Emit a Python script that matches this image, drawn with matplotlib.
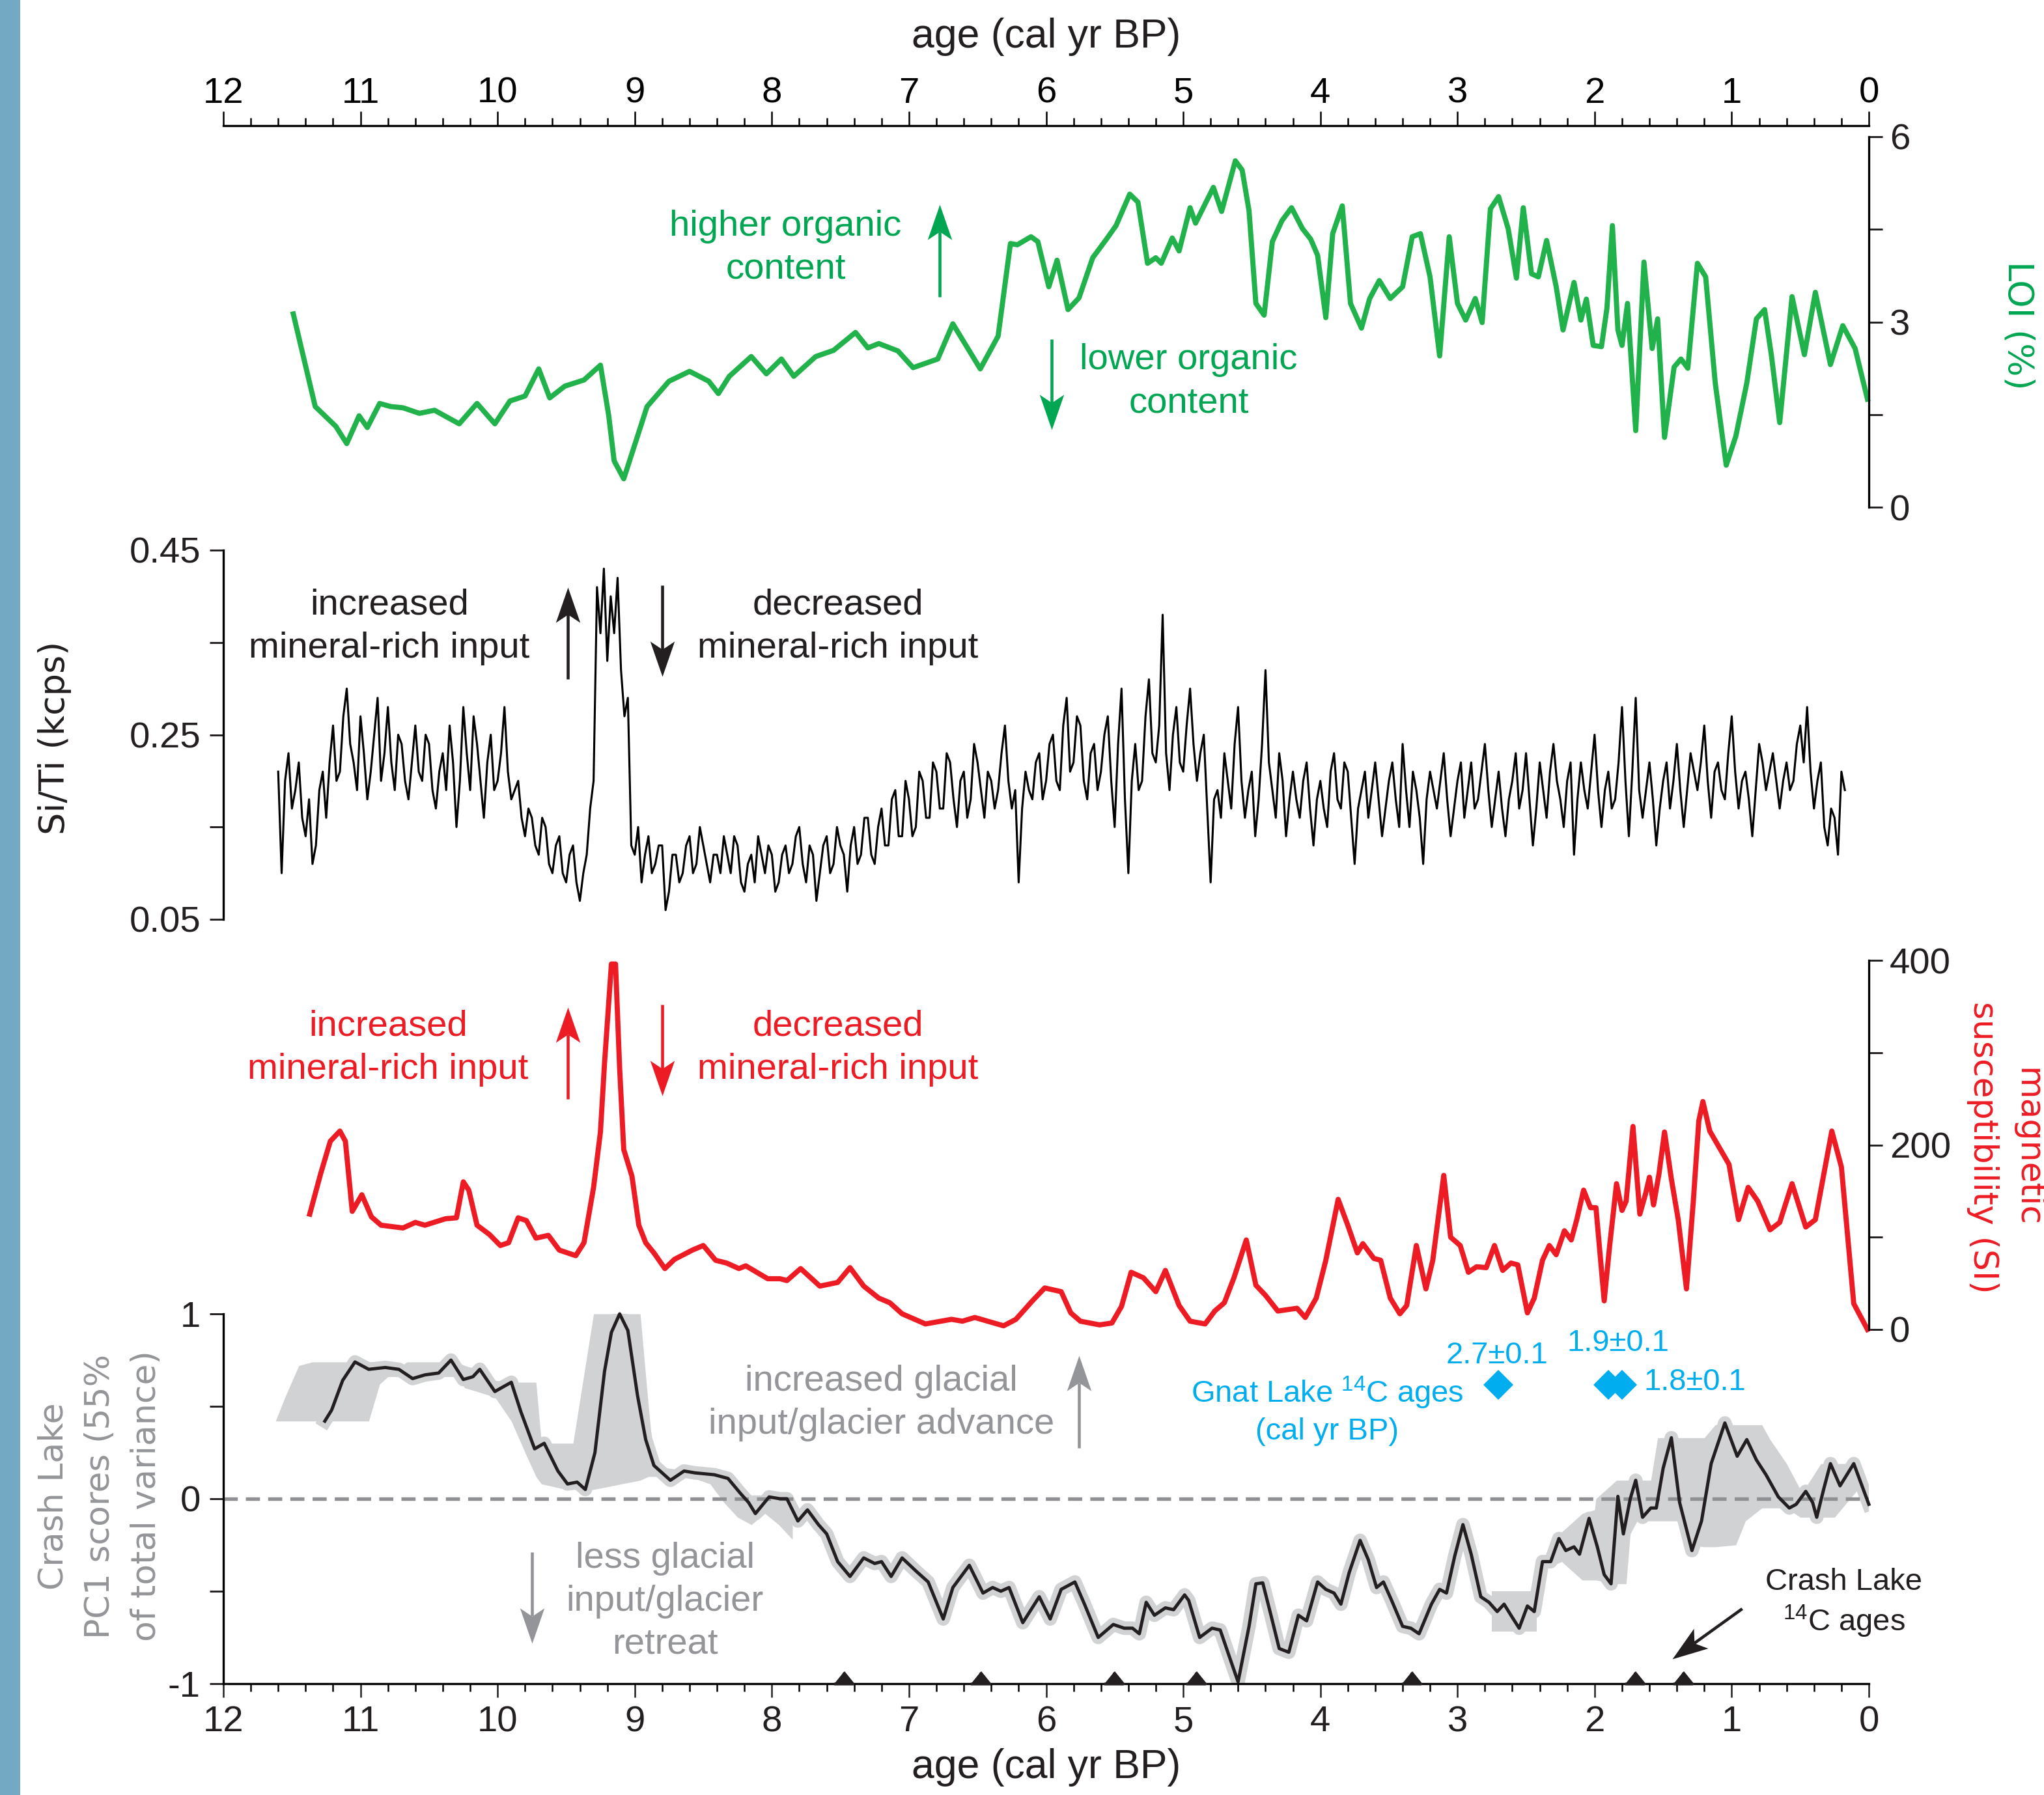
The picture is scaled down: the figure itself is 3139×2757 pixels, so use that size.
import matplotlib
matplotlib.use('Agg')
import matplotlib.pyplot as plt
import numpy as np
from matplotlib.patches import Rectangle
from matplotlib.markers import MarkerStyle
from matplotlib.path import Path
from matplotlib.transforms import Affine2D

plt.rcParams['font.family'] = ['Liberation Sans', 'DejaVu Sans']
plt.rcParams['mathtext.default'] = 'regular'

# ---------------- data (age in cal kyr BP) ----------------
loi_age = [11.49, 11.33, 11.18, 11.10, 11.01, 10.95, 10.86, 10.78, 10.69, 10.57, 10.46, 10.28, 10.15,
           10.02, 9.91, 9.80, 9.70, 9.62, 9.51, 9.37, 9.25, 9.19, 9.15, 9.08, 8.91, 8.75, 8.60, 8.46,
           8.39, 8.31, 8.15, 8.04, 7.93, 7.84, 7.68, 7.55, 7.39, 7.30, 7.22, 7.08, 6.97, 6.79, 6.68,
           6.48, 6.35, 6.26, 6.21, 6.11, 6.06, 5.98, 5.92, 5.84, 5.76, 5.66, 5.56, 5.49, 5.39, 5.33,
           5.26, 5.20, 5.16, 5.08, 5.03, 4.95, 4.91, 4.78, 4.72, 4.62, 4.57, 4.52, 4.47, 4.41, 4.35,
           4.28, 4.21, 4.13, 4.07, 4.02, 3.96, 3.91, 3.84, 3.78, 3.70, 3.64, 3.57, 3.49, 3.40, 3.33,
           3.27, 3.20, 3.13, 3.06, 3.00, 2.94, 2.87, 2.82, 2.76, 2.70, 2.63, 2.57, 2.52, 2.46, 2.41,
           2.35, 2.28, 2.23, 2.15, 2.10, 2.06, 2.01, 1.95, 1.91, 1.87, 1.83, 1.80, 1.76, 1.70, 1.64,
           1.58, 1.54, 1.49, 1.42, 1.37, 1.32, 1.25, 1.19, 1.12, 1.04, 0.97, 0.89, 0.82, 0.76, 0.71,
           0.65, 0.56, 0.47, 0.39, 0.28, 0.19, 0.10, 0.01]
loi_val = [3.13, 1.63, 1.31, 1.03, 1.48, 1.29, 1.68, 1.63, 1.61, 1.52, 1.57, 1.35, 1.68,
           1.35, 1.72, 1.80, 2.24, 1.77, 1.96, 2.06, 2.30, 1.49, 0.75, 0.46, 1.63, 2.04, 2.20, 2.04,
           1.84, 2.12, 2.44, 2.16, 2.40, 2.12, 2.44, 2.54, 2.83, 2.58, 2.65, 2.53, 2.26, 2.40, 2.97,
           2.24, 2.77, 4.27, 4.25, 4.38, 4.30, 3.57, 4.00, 3.20, 3.39, 4.04, 4.34, 4.56, 5.07, 4.94,
           3.95, 4.04, 3.95, 4.36, 4.15, 4.85, 4.60, 5.18, 4.79, 5.61, 5.46, 4.80, 3.30, 3.11, 4.30,
           4.64, 4.85, 4.51, 4.34, 4.08, 3.07, 4.43, 4.88, 3.30, 2.90, 3.38, 3.67, 3.38, 3.57, 4.38,
           4.43, 3.73, 2.45, 4.38, 3.30, 3.03, 3.38, 2.99, 4.83, 5.03, 4.51, 3.71, 4.85, 3.78, 3.73,
           4.32, 3.57, 2.87, 3.64, 3.03, 3.37, 2.62, 2.60, 3.22, 4.56, 2.87, 2.62, 3.30, 1.24, 3.97,
           2.57, 3.05, 1.13, 2.27, 2.40, 2.25, 3.95, 3.73, 2.01, 0.68, 1.15, 2.01, 3.05, 3.20, 2.45,
           1.37, 3.41, 2.47, 3.48, 2.31, 2.94, 2.57, 1.75]

# Si/Ti, one reading every 0.025 kyr from 11.600 (each row spans 0.25 kyr)
siti_start = 11.60
siti_step = 0.025
siti_val = [
    0.21, 0.10, 0.20, 0.23, 0.17, 0.19, 0.22, 0.16, 0.14, 0.18,
    0.11, 0.13, 0.19, 0.21, 0.16, 0.22, 0.26, 0.20, 0.21, 0.27,
    0.30, 0.24, 0.22, 0.19, 0.27, 0.23, 0.18, 0.21, 0.25, 0.29,
    0.20, 0.23, 0.28, 0.22, 0.19, 0.25, 0.24, 0.20, 0.18, 0.22,
    0.26, 0.21, 0.20, 0.25, 0.24, 0.19, 0.17, 0.21, 0.23, 0.19,
    0.26, 0.22, 0.15, 0.20, 0.28, 0.23, 0.19, 0.27, 0.24, 0.20,
    0.16, 0.22, 0.25, 0.19, 0.20, 0.23, 0.28, 0.21, 0.18, 0.19,
    0.20, 0.16, 0.14, 0.17, 0.16, 0.13, 0.12, 0.16, 0.15, 0.11,
    0.10, 0.13, 0.14, 0.10, 0.09, 0.12, 0.13, 0.09, 0.07, 0.10,
    0.12, 0.17, 0.20, 0.41, 0.36, 0.43, 0.33, 0.40, 0.36, 0.42,
    0.32, 0.27, 0.29, 0.13, 0.12, 0.15, 0.09, 0.12, 0.14, 0.10,
    0.11, 0.13, 0.13, 0.06, 0.08, 0.12, 0.12, 0.09, 0.10, 0.13,
    0.14, 0.10, 0.11, 0.15, 0.13, 0.11, 0.09, 0.12, 0.12, 0.10,
    0.14, 0.12, 0.10, 0.14, 0.13, 0.09, 0.08, 0.11, 0.12, 0.09,
    0.14, 0.12, 0.10, 0.13, 0.12, 0.08, 0.09, 0.12, 0.13, 0.10,
    0.11, 0.14, 0.15, 0.11, 0.09, 0.13, 0.12, 0.07, 0.10, 0.13,
    0.14, 0.10, 0.11, 0.15, 0.13, 0.12, 0.08, 0.13, 0.15, 0.11,
    0.12, 0.16, 0.16, 0.12, 0.11, 0.15, 0.17, 0.13, 0.13, 0.18,
    0.19, 0.14, 0.14, 0.20, 0.18, 0.14, 0.15, 0.21, 0.20, 0.16,
    0.16, 0.22, 0.21, 0.17, 0.17, 0.23, 0.22, 0.18, 0.15, 0.20,
    0.21, 0.16, 0.18, 0.24, 0.22, 0.19, 0.16, 0.21, 0.20, 0.17,
    0.19, 0.23, 0.26, 0.20, 0.17, 0.19, 0.09, 0.17, 0.21, 0.19,
    0.18, 0.22, 0.23, 0.18, 0.20, 0.24, 0.25, 0.20, 0.19, 0.26,
    0.29, 0.21, 0.22, 0.27, 0.26, 0.20, 0.18, 0.23, 0.24, 0.19,
    0.21, 0.25, 0.27, 0.20, 0.15, 0.24, 0.30, 0.18, 0.10, 0.20,
    0.24, 0.19, 0.20, 0.27, 0.31, 0.23, 0.22, 0.26, 0.38, 0.23,
    0.19, 0.25, 0.28, 0.22, 0.21, 0.26, 0.30, 0.24, 0.20, 0.23,
    0.25, 0.17, 0.09, 0.18, 0.19, 0.16, 0.23, 0.20, 0.17, 0.24,
    0.28, 0.20, 0.16, 0.19, 0.21, 0.14, 0.18, 0.24, 0.32, 0.22,
    0.19, 0.16, 0.23, 0.20, 0.14, 0.18, 0.21, 0.18, 0.16, 0.20,
    0.22, 0.17, 0.13, 0.18, 0.20, 0.17, 0.15, 0.21, 0.23, 0.18,
    0.17, 0.22, 0.21, 0.16, 0.11, 0.17, 0.19, 0.21, 0.16, 0.19,
    0.22, 0.18, 0.14, 0.17, 0.20, 0.22, 0.18, 0.15, 0.24, 0.19,
    0.15, 0.21, 0.19, 0.16, 0.11, 0.18, 0.21, 0.19, 0.17, 0.20,
    0.23, 0.18, 0.14, 0.17, 0.20, 0.22, 0.16, 0.19, 0.22, 0.17,
    0.18, 0.21, 0.24, 0.19, 0.15, 0.18, 0.21, 0.17, 0.14, 0.18,
    0.20, 0.23, 0.17, 0.19, 0.23, 0.18, 0.13, 0.17, 0.22, 0.19,
    0.16, 0.21, 0.24, 0.20, 0.18, 0.15, 0.20, 0.22, 0.12, 0.18,
    0.22, 0.19, 0.17, 0.21, 0.25, 0.19, 0.15, 0.19, 0.21, 0.17,
    0.18, 0.22, 0.28, 0.20, 0.14, 0.21, 0.29, 0.19, 0.16, 0.19,
    0.22, 0.18, 0.13, 0.17, 0.20, 0.22, 0.17, 0.20, 0.24, 0.19,
    0.15, 0.19, 0.23, 0.21, 0.19, 0.22, 0.26, 0.20, 0.16, 0.21,
    0.22, 0.19, 0.18, 0.23, 0.27, 0.21, 0.17, 0.20, 0.21, 0.18,
    0.14, 0.19, 0.24, 0.22, 0.19, 0.21, 0.23, 0.20, 0.17, 0.20,
    0.22, 0.19, 0.20, 0.24, 0.26, 0.22, 0.28, 0.21, 0.17, 0.20,
    0.22, 0.15, 0.13, 0.17, 0.16, 0.12, 0.21, 0.19]

ms_age = [11.37, 11.29, 11.22, 11.15, 11.11, 11.06, 10.99, 10.92, 10.85, 10.69, 10.60, 10.53, 10.38,
          10.30, 10.25, 10.21, 10.15, 10.06, 9.98, 9.92, 9.85, 9.79, 9.72, 9.63, 9.55, 9.43, 9.37,
          9.30, 9.25, 9.22, 9.17, 9.14, 9.11, 9.08, 9.02, 8.97, 8.92, 8.86, 8.78, 8.71, 8.58, 8.50,
          8.41, 8.33, 8.24, 8.19, 8.03, 7.94, 7.89, 7.79, 7.65, 7.52, 7.43, 7.33, 7.22, 7.14, 7.05,
          6.88, 6.69, 6.61, 6.52, 6.31, 6.22, 6.10, 6.01, 5.89, 5.82, 5.75, 5.61, 5.52, 5.45, 5.38,
          5.29, 5.20, 5.13, 5.03, 4.95, 4.84, 4.77, 4.70, 4.63, 4.54, 4.47, 4.40, 4.31, 4.17, 4.11,
          4.03, 3.96, 3.87, 3.80, 3.73, 3.69, 3.61, 3.56, 3.49, 3.42, 3.37, 3.30, 3.23, 3.18, 3.10,
          3.05, 2.98, 2.92, 2.86, 2.79, 2.73, 2.67, 2.61, 2.56, 2.49, 2.44, 2.38, 2.33, 2.28, 2.22,
          2.17, 2.13, 2.08, 2.03, 1.99, 1.93, 1.89, 1.84, 1.80, 1.77, 1.72, 1.67, 1.63, 1.60, 1.57,
          1.53, 1.49, 1.44, 1.39, 1.33, 1.28, 1.24, 1.21, 1.16, 1.02, 0.95, 0.88, 0.81, 0.72, 0.65,
          0.56, 0.46, 0.39, 0.27, 0.20, 0.11, 0.01]
ms_val = [125, 169, 204, 215, 204, 128, 146, 122, 113, 110, 116, 113, 120,
          121, 160, 151, 113, 103, 91, 94, 121, 118, 99, 102, 86, 80, 94,
          154, 214, 289, 396, 396, 283, 195, 166, 113, 94, 83, 66, 76, 86, 91,
          75, 72, 66, 69, 55, 55, 53, 66, 47, 51, 67, 47, 34, 29, 17,
          6, 11, 9, 13, 4, 11, 31, 45, 41, 18, 9, 5, 7, 25, 62,
          56, 41, 64, 26, 9, 6, 20, 29, 56, 97, 48, 37, 20, 23, 13,
          34, 75, 141, 113, 83, 93, 77, 75, 34, 17, 26, 91, 44, 75, 167,
          100, 91, 62, 68, 67, 91, 64, 72, 70, 18, 34, 75, 91, 81, 107,
          97, 119, 151, 132, 132, 31, 91, 158, 129, 139, 220, 125, 146, 165, 135,
          169, 214, 163, 119, 44, 139, 226, 247, 215, 179, 119, 154, 139, 108, 116,
          158, 111, 119, 215, 176, 28, 0]

pc_age = [11.26, 11.21, 11.13, 11.04, 10.94, 10.82, 10.72, 10.62, 10.53, 10.43, 10.34, 10.25, 10.18,
          10.13, 10.02, 9.90, 9.83, 9.73, 9.66, 9.56, 9.49, 9.42, 9.36, 9.29, 9.22, 9.17, 9.11, 9.05,
          8.98, 8.92, 8.86, 8.74, 8.64, 8.56, 8.42, 8.32, 8.23, 8.17, 8.12, 8.02, 7.94, 7.89, 7.81,
          7.74, 7.66, 7.60, 7.52, 7.43, 7.33, 7.25, 7.20, 7.13, 7.05, 6.95, 6.86, 6.75, 6.68, 6.56,
          6.46, 6.39, 6.33, 6.27, 6.17, 6.05, 5.97, 5.89, 5.79, 5.72, 5.62, 5.51, 5.43, 5.37, 5.32,
          5.27, 5.21, 5.13, 5.07, 4.99, 4.96, 4.88, 4.79, 4.73, 4.67, 4.60, 4.52, 4.47, 4.42, 4.36,
          4.30, 4.23, 4.16, 4.10, 4.02, 3.96, 3.90, 3.85, 3.79, 3.71, 3.65, 3.59, 3.54, 3.48, 3.40,
          3.34, 3.28, 3.19, 3.13, 3.08, 3.02, 2.96, 2.90, 2.83, 2.77, 2.71, 2.66, 2.61, 2.55, 2.49,
          2.44, 2.38, 2.32, 2.26, 2.21, 2.15, 2.11, 2.04, 1.98, 1.93, 1.88, 1.83, 1.79, 1.74, 1.70,
          1.65, 1.59, 1.55, 1.50, 1.44, 1.38, 1.29, 1.22, 1.15, 1.05, 0.96, 0.89, 0.82, 0.75, 0.66,
          0.58, 0.53, 0.46, 0.41, 0.38, 0.33, 0.28, 0.21, 0.16, 0.11, 0.06, 0.00]
pc_val = [0.42, 0.48, 0.64, 0.74, 0.70, 0.71, 0.70, 0.65, 0.67, 0.68, 0.75, 0.645, 0.66,
          0.70, 0.58, 0.63, 0.47, 0.27, 0.30, 0.15, 0.08, 0.09, 0.05, 0.25, 0.69, 0.90, 1.00, 0.91,
          0.56, 0.32, 0.18, 0.10, 0.15, 0.14, 0.13, 0.11, 0.03, -0.02, -0.08, 0.01, 0.00, 0.00, -0.12,
          -0.06, -0.14, -0.19, -0.34, -0.42, -0.32, -0.35, -0.34, -0.42, -0.32, -0.39, -0.45, -0.65, -0.48, -0.36,
          -0.51, -0.48, -0.50, -0.48, -0.67, -0.53, -0.65, -0.49, -0.45, -0.57, -0.75, -0.68, -0.70, -0.70, -0.73,
          -0.56, -0.63, -0.59, -0.60, -0.52, -0.55, -0.75, -0.70, -0.71, -0.84, -0.99, -0.69, -0.46, -0.455, -0.63,
          -0.81, -0.83, -0.63, -0.66, -0.45, -0.49, -0.51, -0.57, -0.40, -0.225, -0.33, -0.48, -0.45, -0.55, -0.69,
          -0.70, -0.73, -0.57, -0.49, -0.51, -0.31, -0.14, -0.30, -0.53, -0.56, -0.61, -0.57, -0.63, -0.70, -0.58,
          -0.61, -0.34, -0.34, -0.215, -0.28, -0.26, -0.30, -0.106, -0.26, -0.41, -0.46, 0.013, -0.19, 0.00, 0.10,
          -0.10, -0.05, -0.05, 0.165, 0.33, -0.02, -0.28, -0.12, 0.19, 0.41, 0.23, 0.32, 0.21, 0.13, 0.01,
          -0.05, -0.03, 0.04, -0.02, -0.10, 0.05, 0.19, 0.07, 0.13, 0.19, 0.09, -0.03]

# age-uncertainty envelope of PC1 (wide parts)
band1_age = [11.62, 11.55, 11.45, 11.35, 10.94, 10.86, 10.80, 10.72, 10.66, 10.30, 10.24, 10.15, 10.02,
             9.90, 9.80, 9.72, 9.68, 9.50, 9.45, 9.30, 8.96, 8.90, 8.86, 8.80, 8.60, 8.45, 8.35, 8.25,
             8.15, 8.05, 7.95, 7.85]
band1_hi = [0.42, 0.55, 0.72, 0.74, 0.74, 0.74, 0.74, 0.71, 0.74, 0.74, 0.72, 0.70, 0.64,
            0.63, 0.63, 0.63, 0.30, 0.30, 0.30, 1.00, 1.00, 0.50, 0.20, 0.17, 0.15, 0.14, 0.10, 0.05,
            0.02, 0.02, 0.02, -0.05]
band1_lo = [0.42, 0.42, 0.42, 0.42, 0.42, 0.62, 0.66, 0.66, 0.66, 0.66, 0.60, 0.58, 0.55,
            0.42, 0.25, 0.12, 0.08, 0.05, 0.05, 0.05, 0.10, 0.12, 0.12, 0.12, 0.12, 0.08, -0.02, -0.10,
            -0.14, -0.08, -0.14, -0.22]
band2_age = [2.75, 2.42]
band2_hi = [-0.50, -0.50]
band2_lo = [-0.72, -0.72]
band3_age = [2.30, 2.24, 2.09, 2.00, 1.99, 1.84, 1.77, 1.74, 1.69, 1.59, 1.54, 1.39, 1.32, 1.20, 1.12,
             0.97, 0.90, 0.78, 0.72, 0.60, 0.50, 0.47, 0.35, 0.25, 0.08, 0.04]
band3_hi = [-0.20, -0.18, -0.08, -0.06, 0.00, 0.10, 0.10, 0.10, 0.10, 0.10, 0.33, 0.33, 0.33, 0.33, 0.40,
            0.40, 0.40, 0.40, 0.32, 0.19, 0.05, 0.05, 0.19, 0.19, 0.19, 0.12]
band3_lo = [-0.36, -0.34, -0.44, -0.44, -0.44, -0.46, -0.46, -0.19, -0.12, -0.12, -0.12, -0.12, -0.25, -0.26, -0.26,
            -0.25, -0.12, -0.05, -0.05, -0.05, -0.10, -0.10, -0.10, -0.10, 0.05, 0.05]

crash_c14 = [7.48, 6.48, 5.51, 4.91, 3.34, 1.71, 1.36]
gnat_c14 = [2.7, 1.9, 1.8]
gnat_labels = ['2.7±0.1', '1.9±0.1', '1.8±0.1']

# ---------------- style ----------------
GREEN_L = '#22b24c'
GREEN_T = '#00a651'
RED = '#ed1c24'
CYAN = '#00aeef'
GREY_T = '#939598'
BAND = '#d1d2d3'
BLACK = '#231f20'
FS = 13.5

W_PX, H_PX = 3139, 2757
fig = plt.figure(figsize=(W_PX / 300, H_PX / 300), dpi=300)
fig.add_artist(Rectangle((0, 0), 31 / W_PX, 1, transform=fig.transFigure,
                         color='#74a9c4', lw=0, zorder=0))

X0, X1 = 343, 2870


def panel(ybot, ytop):
    ax = fig.add_axes([X0 / W_PX, 1 - ybot / H_PX, (X1 - X0) / W_PX, (ybot - ytop) / H_PX])
    ax.set_xlim(12, 0)
    ax.patch.set_alpha(0)
    for s in ax.spines.values():
        s.set_visible(False)
    ax.tick_params(axis='x', bottom=False, labelbottom=False)
    ax.tick_params(axis='y', length=5, width=0.7, labelsize=FS, colors=BLACK)
    return ax


# top age axis
ax_top = fig.add_axes([X0 / W_PX, 1 - 193 / H_PX, (X1 - X0) / W_PX, 0.0001])
ax_top.set_xlim(12, 0)
ax_top.patch.set_alpha(0)
for k in ['left', 'right', 'bottom']:
    ax_top.spines[k].set_visible(False)
ax_top.spines['top'].set_linewidth(0.8)
ax_top.set_yticks([])
ax_top.xaxis.tick_top()
ax_top.set_xticks(range(0, 13))
ax_top.set_xticklabels([str(i) for i in range(0, 13)])
ax_top.set_xticks(np.arange(0, 12.01, 0.2), minor=True)
ax_top.tick_params(axis='x', which='major', direction='out', length=5.3, width=0.6, labelsize=FS, pad=0.2)
ax_top.tick_params(axis='x', which='minor', direction='out', length=3.0, width=0.6)
fig.text(0.5117, 1 - 56 / H_PX, 'age (cal yr BP)', ha='center', va='center', fontsize=15, color=BLACK)

# LOI
ax_loi = panel(779, 210)
ax_loi.set_ylim(0, 6)
ax_loi.spines['right'].set_visible(True)
ax_loi.spines['right'].set_linewidth(0.8)
ax_loi.yaxis.tick_right()
ax_loi.set_yticks([0, 1.5, 3, 4.5, 6])
ax_loi.set_yticklabels(['0', '', '3', '', '6'])
ax_loi.tick_params(axis='y', pad=2.6)
ax_loi.plot(loi_age, loi_val, color=GREEN_L, lw=1.9, solid_joinstyle='round', clip_on=False)
ax_loi.text(7.90, 4.20, 'higher organic\ncontent', color=GREEN_T, fontsize=FS, ha='center', va='center',
            linespacing=1.35)
ax_loi.text(4.96, 2.03, 'lower organic\ncontent', color=GREEN_T, fontsize=FS, ha='center', va='center',
            linespacing=1.35)

# Si/Ti
ax_si = panel(1412, 845)
ax_si.set_ylim(0.05, 0.45)
ax_si.spines['left'].set_visible(True)
ax_si.spines['left'].set_linewidth(0.8)
ax_si.set_yticks([0.05, 0.15, 0.25, 0.35, 0.45])
ax_si.set_yticklabels(['0.05', '', '0.25', '', '0.45'])
ax_si.tick_params(axis='y', pad=3.4)
siti_age = np.round(siti_start - siti_step * np.arange(len(siti_val)), 3)
ax_si.plot(siti_age, siti_val, color='black', lw=0.75, clip_on=False)
ax_si.text(10.79, 0.367, 'increased\nmineral-rich input', color=BLACK, fontsize=FS, ha='center', va='center',
           linespacing=1.35)
ax_si.text(7.52, 0.367, 'decreased\nmineral-rich input', color=BLACK, fontsize=FS, ha='center', va='center',
           linespacing=1.35)
fig.text(84 / W_PX, 1 - 1133 / H_PX, 'Si/Ti (kcps)', rotation=90, ha='center', va='center',
         fontsize=13, family='DejaVu Sans', color=BLACK)

# magnetic susceptibility
ax_ms = panel(2042, 1475)
ax_ms.set_ylim(0, 400)
ax_ms.spines['right'].set_visible(True)
ax_ms.spines['right'].set_linewidth(0.8)
ax_ms.yaxis.tick_right()
ax_ms.set_yticks([0, 100, 200, 300, 400])
ax_ms.set_yticklabels(['0', '', '200', '', '400'])
ax_ms.tick_params(axis='y', pad=2.6)
ax_ms.plot(ms_age, ms_val, color=RED, lw=1.9, solid_joinstyle='round', clip_on=False)
ax_ms.text(10.80, 305, 'increased\nmineral-rich input', color=RED, fontsize=FS, ha='center', va='center',
           linespacing=1.35)
ax_ms.text(7.52, 305, 'decreased\nmineral-rich input', color=RED, fontsize=FS, ha='center', va='center',
           linespacing=1.35)
fig.text(3079 / W_PX, 1 - 1762 / H_PX, 'magnetic\nsusceptibility (SI)', rotation=270, ha='center',
         va='center', fontsize=12.5, family='DejaVu Sans', color=RED, linespacing=1.45)
fig.text(3099 / W_PX, 1 - 500 / H_PX, 'LOI (%)', rotation=270, ha='center', va='center',
         fontsize=13, family='DejaVu Sans', color=GREEN_T)

# PC1
ax_pc = panel(2586, 2018)
ax_pc.set_ylim(-1, 1)
ax_pc.spines['left'].set_visible(True)
ax_pc.spines['bottom'].set_visible(True)
ax_pc.spines['left'].set_linewidth(0.8)
ax_pc.spines['bottom'].set_linewidth(0.8)
ax_pc.set_yticks([-1, -0.5, 0, 0.5, 1])
ax_pc.set_yticklabels(['-1', '', '0', '', '1'])
ax_pc.tick_params(axis='y', pad=3.4)
ax_pc.set_xticks(range(0, 13))
ax_pc.set_xticklabels([str(i) for i in range(0, 13)])
ax_pc.set_xticks(np.arange(0, 12.01, 0.2), minor=True)
ax_pc.tick_params(axis='x', which='major', bottom=True, labelbottom=True, direction='out', length=5.0,
                  width=0.6, labelsize=FS, pad=3.0, colors=BLACK)
ax_pc.tick_params(axis='x', which='minor', bottom=True, direction='out', length=2.9, width=0.6)

for a, lo, hi in [(band1_age, band1_lo, band1_hi), (band2_age, band2_lo, band2_hi),
                  (band3_age, band3_lo, band3_hi)]:
    ax_pc.fill_between(a, lo, hi, color=BAND, lw=0, zorder=1)
ax_pc.plot(pc_age, pc_val, color=BAND, lw=5, solid_joinstyle='round', zorder=1.5)
ax_pc.axhline(0, color='#8f9093', lw=1.3, dashes=(4, 2.3), zorder=2)
ax_pc.plot(pc_age, pc_val, color=BLACK, lw=1.2, solid_joinstyle='round', zorder=3, clip_on=False)
ax_pc.plot(crash_c14, [-1] * len(crash_c14), linestyle='none', color=BLACK, markersize=8.7,
           marker=[(-1, 0), (1, 0), (0, 1.24)], clip_on=False, zorder=4)
ax_pc.plot(gnat_c14, [0.615] * len(gnat_c14), linestyle='none', marker='D', markersize=7.8, color=CYAN,
           mec='none', zorder=4)
ax_pc.text(2.71, 0.775, gnat_labels[0], color=CYAN, fontsize=11.3, ha='center', va='center')
ax_pc.text(1.83, 0.84, gnat_labels[1], color=CYAN, fontsize=11.3, ha='center', va='center')
ax_pc.text(1.64, 0.63, gnat_labels[2], color=CYAN, fontsize=11.3, ha='left', va='center')
ax_pc.text(3.95, 0.476, 'Gnat Lake $^{14}$C ages\n(cal yr BP)', color=CYAN, fontsize=11.3, ha='center',
           va='center', linespacing=1.3)
ax_pc.text(0.183, -0.568, 'Crash Lake\n$^{14}$C ages', color=BLACK, fontsize=11.3, ha='center', va='center',
           linespacing=1.25)
ax_pc.text(7.20, 0.517, 'increased glacial\ninput/glacier advance', color=GREY_T, fontsize=FS, ha='center',
           va='center', linespacing=1.35)
ax_pc.text(8.78, -0.556, 'less glacial\ninput/glacier\nretreat', color=GREY_T, fontsize=FS, ha='center',
           va='center', linespacing=1.35)
fig.text(154 / W_PX, 1 - 2298 / H_PX, 'Crash Lake\nPC1 scores (55%\nof total variance)', rotation=90,
         ha='center', va='center', fontsize=12.5, family='DejaVu Sans', color=GREY_T, linespacing=1.55)
fig.text(0.5117, 1 - 2715 / H_PX, 'age (cal yr BP)', ha='center', va='center', fontsize=15, color=BLACK)

# stealth-style arrow head: tip at origin, pointing along +x
HEAD = Path([(0, 0), (-1.3, 0.45), (-1.0, 0), (-1.3, -0.45), (0, 0)],
            [Path.MOVETO, Path.LINETO, Path.LINETO, Path.LINETO, Path.CLOSEPOLY])
HEAD_PT = 26  # marker size -> head length 13 pt


def arrow(ax, tail, tip, color, lw=1.1):
    p0 = ax.transData.transform(tail)
    p1 = ax.transData.transform(tip)
    d = p1 - p0
    ang = np.degrees(np.arctan2(d[1], d[0]))
    u = d / np.hypot(*d)
    notch_px = p1 - u * (HEAD_PT / 2 * (1.0 / 1.3)) * fig.dpi / 72
    notch = ax.transData.inverted().transform(notch_px)
    ax.plot([tail[0], notch[0]], [tail[1], notch[1]], color=color, lw=lw, solid_capstyle='butt',
            clip_on=False)
    ax.plot([tip[0]], [tip[1]], linestyle='none', color=color, markeredgewidth=0, markersize=HEAD_PT,
            marker=MarkerStyle(HEAD, transform=Affine2D().rotate_deg(ang)), clip_on=False)


arrow(ax_loi, (6.777, 3.41), (6.777, 4.90), GREEN_T)
arrow(ax_loi, (5.96, 2.72), (5.96, 1.25), GREEN_T)
arrow(ax_si, (9.49, 0.310), (9.49, 0.410), BLACK)
arrow(ax_si, (8.80, 0.412), (8.80, 0.313), BLACK)
arrow(ax_ms, (9.49, 250), (9.49, 349), RED)
arrow(ax_ms, (8.80, 352), (8.80, 253), RED)
arrow(ax_pc, (5.76, 0.276), (5.76, 0.774), '#939598')
arrow(ax_pc, (9.75, -0.29), (9.75, -0.78), '#939598')
arrow(ax_pc, (0.923, -0.595), (1.433, -0.867), BLACK)

fig.savefig('out.png', dpi=300)
